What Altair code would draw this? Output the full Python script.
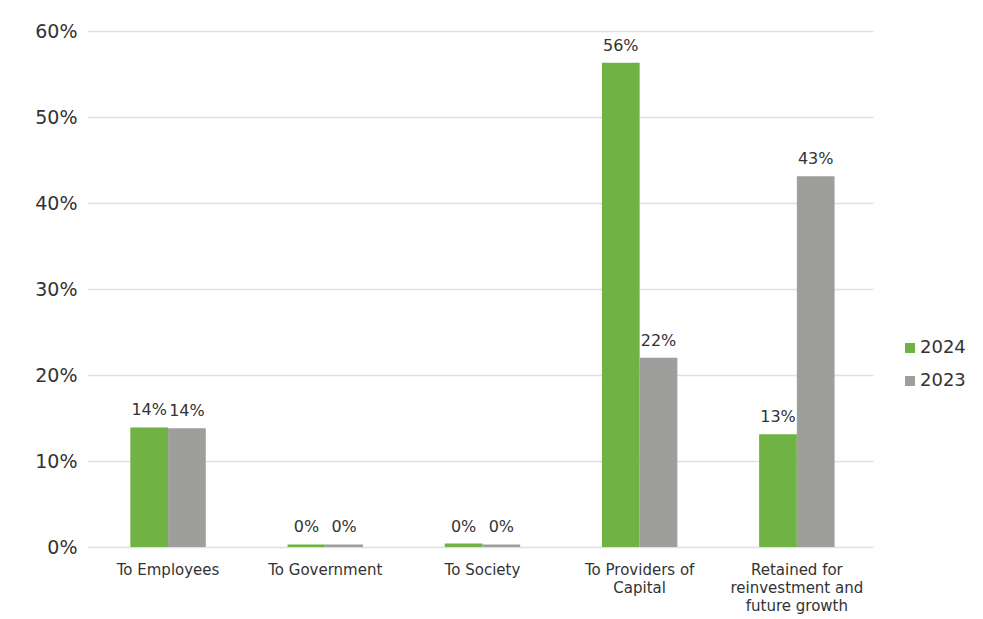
import altair as alt
import pandas as pd

categories = ["To Employees", "To Government", "To Society", "To Providers of Capital",
              "Retained for reinvestment and future growth"]
label_lines = [["To Employees"], ["To Government"], ["To Society"],
               ["To Providers of", "Capital"],
               ["Retained for", "reinvestment and", "future growth"]]
values_2024 = [0.139, 0.003, 0.004, 0.563, 0.131]
values_2023 = [0.138, 0.003, 0.003, 0.220, 0.431]
years = ["2024", "2023"]
colors = ["#70B244", "#9E9E9D"]

rows = []
for c, v24, v23 in zip(categories, values_2024, values_2023):
    rows.append({"category": c, "year": "2024", "value": v24})
    rows.append({"category": c, "year": "2023", "value": v23})
df = pd.DataFrame(rows)

mapping = "{" + ",".join(
    "'" + c + "':[" + ",".join("'" + l + "'" for l in lines) + "]"
    for c, lines in zip(categories, label_lines)) + "}"
label_expr = mapping + "[datum.label]"

FONT = "DejaVu Sans"

base = alt.Chart(df).encode(
    x=alt.X("category:N", sort=categories, title=None,
            scale=alt.Scale(paddingInner=0.52, paddingOuter=0.26, align=0.53),
            axis=alt.Axis(labelAngle=0, labelExpr=label_expr, labelFontSize=15,
                          labelColor="#333333", labelFont=FONT, labelPadding=15,
                          domain=False, ticks=False, labelLineHeight=18,
                          labelBaseline="top", grid=False)),
    xOffset=alt.XOffset("year:N", sort=years),
)

bars = base.mark_bar().encode(
    y=alt.Y("value:Q", title=None,
            scale=alt.Scale(domain=[0, 0.6]),
            axis=alt.Axis(format=".0%", values=[0, 0.1, 0.2, 0.3, 0.4, 0.5, 0.6],
                          labelFontSize=19, labelColor="#333333", labelFont=FONT,
                          domain=False, ticks=False, labelPadding=10,
                          minExtent=75, maxExtent=75,
                          gridColor="#E0E0E0", gridWidth=1.5)),
    color=alt.Color("year:N", sort=years,
                    scale=alt.Scale(domain=years, range=colors),
                    legend=alt.Legend(title=None, orient="none", legendX=814, legendY=308,
                                      symbolType="square", symbolSize=100,
                                      symbolStrokeWidth=0, labelFontSize=18,
                                      labelFont=FONT, labelColor="#333333",
                                      rowPadding=15, labelOffset=1)),
)

text = base.mark_text(dy=-17, fontSize=16, font=FONT, color="#333333").encode(
    y=alt.Y("value:Q"),
    text=alt.Text("value:Q", format=".0%"),
)

chart = (bars + text).properties(
    width=786, height=516,
    background="white",
    padding={"left": 4, "top": 14, "right": 5, "bottom": 5},
).configure_view(strokeWidth=0, stroke="transparent")

chart.save("out.html", embed_options={"renderer": "svg", "actions": False})
